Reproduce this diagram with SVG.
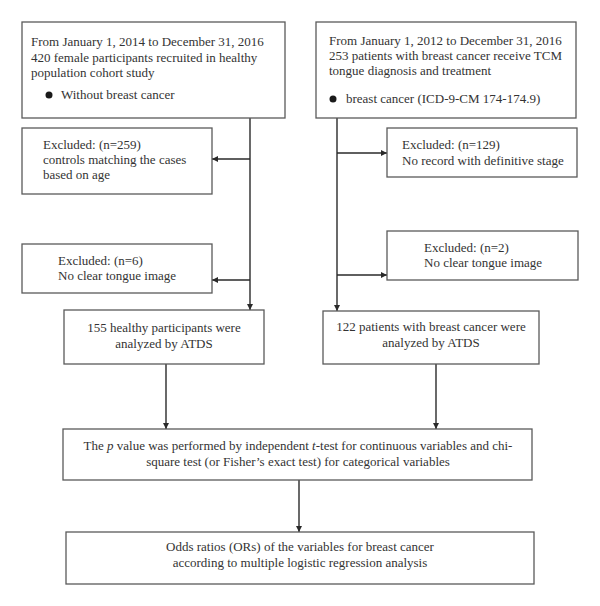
<svg xmlns="http://www.w3.org/2000/svg" width="600" height="606" viewBox="0 0 600 606">
<style>
  .box { fill: #ffffff; stroke: #5a5a5a; stroke-width: 1.3; }
  .t { font-family: "Liberation Serif", "Times New Roman", serif; font-size: 13px; fill: #333333; }
  .c { text-anchor: middle; }
  .ln { stroke: #2a2a2a; stroke-width: 1.4; fill: none; }
</style>
<defs>
  <marker id="arr" viewBox="0 0 10 10" refX="10" refY="5" markerWidth="6" markerHeight="6" markerUnits="userSpaceOnUse" orient="auto">
    <path d="M0,0 L10,5 L0,10 z" fill="#2a2a2a"/>
  </marker>
</defs>
<rect width="600" height="606" fill="#ffffff"/>

<g id="connectors">
  <line class="ln" x1="250" y1="118" x2="250" y2="310" marker-end="url(#arr)"/>
  <line class="ln" x1="250" y1="159" x2="212" y2="159" marker-end="url(#arr)"/>
  <line class="ln" x1="250" y1="280" x2="212" y2="280" marker-end="url(#arr)"/>
  <line class="ln" x1="337" y1="118" x2="337" y2="311" marker-end="url(#arr)"/>
  <line class="ln" x1="337" y1="153" x2="387" y2="153" marker-end="url(#arr)"/>
  <line class="ln" x1="337" y1="275" x2="387" y2="275" marker-end="url(#arr)"/>
  <line class="ln" x1="166" y1="364" x2="166" y2="429" marker-end="url(#arr)"/>
  <line class="ln" x1="436" y1="364" x2="436" y2="429" marker-end="url(#arr)"/>
  <line class="ln" x1="299" y1="480" x2="299" y2="532" marker-end="url(#arr)"/>
</g>

<g id="healthy-cohort">
  <rect class="box" x="22" y="22" width="263" height="96"/>
  <text class="t" x="31" y="46">From January 1, 2014 to December 31, 2016</text>
  <text class="t" x="31" y="62">420 female participants recruited in healthy</text>
  <text class="t" x="31" y="77">population cohort study</text>
  <circle cx="49" cy="95" r="3.5" fill="#1a1a1a"/>
  <text class="t" x="61" y="99">Without breast cancer</text>
</g>

<g id="cancer-cohort">
  <rect class="box" x="316" y="22" width="260" height="96"/>
  <text class="t" x="329" y="45">From January 1, 2012 to December 31, 2016</text>
  <text class="t" x="329" y="60">253 patients with breast cancer receive TCM</text>
  <text class="t" x="329" y="75">tongue diagnosis and treatment</text>
  <circle cx="333" cy="99" r="3.5" fill="#1a1a1a"/>
  <text class="t" x="346" y="103">breast cancer (ICD-9-CM 174-174.9)</text>
</g>

<g id="excluded-259">
  <rect class="box" x="22" y="128" width="190" height="66"/>
  <text class="t" x="43" y="149">Excluded: (n=259)</text>
  <text class="t" x="43" y="164">controls matching the cases</text>
  <text class="t" x="43" y="179">based on age</text>
</g>

<g id="excluded-129">
  <rect class="box" x="387" y="128" width="190" height="49"/>
  <text class="t" x="402" y="149">Excluded: (n=129)</text>
  <text class="t" x="402" y="165">No record with definitive stage</text>
</g>

<g id="excluded-6">
  <rect class="box" x="22" y="244" width="190" height="49"/>
  <text class="t" x="58" y="265">Excluded: (n=6)</text>
  <text class="t" x="58" y="280">No clear tongue image</text>
</g>

<g id="excluded-2">
  <rect class="box" x="387" y="231" width="191" height="49"/>
  <text class="t" x="424" y="252">Excluded: (n=2)</text>
  <text class="t" x="424" y="267">No clear tongue image</text>
</g>

<g id="healthy-analyzed">
  <rect class="box" x="64" y="310" width="200" height="54"/>
  <text class="t c" x="164" y="332">155 healthy participants were</text>
  <text class="t c" x="164" y="348">analyzed by ATDS</text>
</g>

<g id="cancer-analyzed">
  <rect class="box" x="323" y="311" width="216" height="53"/>
  <text class="t c" x="431" y="331">122 patients with breast cancer were</text>
  <text class="t c" x="431" y="347">analyzed by ATDS</text>
</g>

<g id="p-value">
  <rect class="box" x="63" y="429" width="469" height="51"/>
  <text class="t c" x="298" y="450">The <tspan font-style="italic">p</tspan> value was performed by independent <tspan font-style="italic">t</tspan>-test for continuous variables and chi-</text>
  <text class="t c" x="298" y="466">square test (or Fisher’s exact test) for categorical variables</text>
</g>

<g id="odds-ratios">
  <rect class="box" x="66" y="532" width="468" height="52"/>
  <text class="t c" x="300" y="551">Odds ratios (ORs) of the variables for breast cancer</text>
  <text class="t c" x="300" y="567">according to multiple logistic regression analysis</text>
</g>
</svg>
